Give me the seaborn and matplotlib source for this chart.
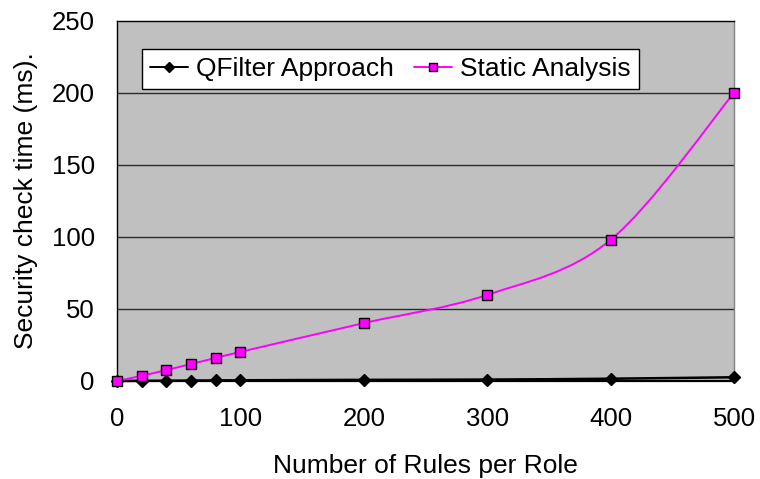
import matplotlib
matplotlib.use("Agg")
import matplotlib.pyplot as plt
from matplotlib.path import Path
from matplotlib.patches import PathPatch
import seaborn as sns
import pandas as pd
import numpy as np

rules = [0, 20, 40, 60, 80, 100, 200, 300, 400, 500]
qfilter = [0.0, 0.1, 0.2, 0.3, 0.4, 0.5, 0.8, 1.0, 1.6, 2.6]
static = [0.0, 3.6, 7.6, 11.8, 16.0, 20.2, 40.2, 59.8, 98.0, 200.0]
series_names = ["QFilter Approach", "Static Analysis"]
colors = {series_names[0]: "black", series_names[1]: "#FF00FF"}

sns.set_theme(style="white")
plt.rcParams['font.family'] = ['Liberation Sans', 'DejaVu Sans']
plt.rcParams['text.color'] = 'black'
plt.rcParams['axes.labelcolor'] = 'black'

df = pd.DataFrame({
    "rules": rules * 2,
    "time": qfilter + static,
    "series": [series_names[0]] * len(rules) + [series_names[1]] * len(rules),
})

fig = plt.figure(figsize=(7.6, 4.79), dpi=100)
ax = fig.add_axes([117/760, 1 - 381/479, (734 - 117)/760, (381 - 21)/479])
ax.set_facecolor("#C0C0C0")

for yv in [50, 100, 150, 200]:
    ax.axhline(yv, color="#2a2a2a", lw=1.0, zorder=1)

sns.lineplot(data=df, x="rules", y="time", hue="series", style="series",
             palette=colors,
             markers={series_names[0]: "D", series_names[1]: "s"},
             dashes=False, markersize=6.5, linewidth=1.4,
             markeredgecolor="black", markeredgewidth=1.0,
             ax=ax, zorder=4, clip_on=False)

# Hide straight segments; draw smoothed (Excel-style) curves through the data points
for line in ax.lines:
    xd = np.asarray(line.get_xdata())
    if len(xd) == len(rules):
        line.set_linestyle("None")


def smooth_path(xs, ys):
    pts = np.column_stack([xs, ys]).astype(float)
    n = len(pts)
    verts = [pts[0]]
    codes = [Path.MOVETO]
    for i in range(n - 1):
        p0 = pts[i - 1] if i > 0 else pts[i]
        p1 = pts[i]
        p2 = pts[i + 1]
        p3 = pts[i + 2] if i + 2 < n else pts[i + 1]
        c1 = p1 + (p2 - p0) / 6.0
        c2 = p2 - (p3 - p1) / 6.0
        verts += [c1, c2, p2]
        codes += [Path.CURVE4] * 3
    return Path(verts, codes)


for name, vals, lw in [(series_names[0], qfilter, 1.8), (series_names[1], static, 1.4)]:
    patch = PathPatch(smooth_path(rules, vals), fill=False, edgecolor=colors[name],
                      lw=lw, zorder=3, transform=ax.transData, clip_on=False)
    ax.add_patch(patch)

ax.set_xlim(0, 500)
ax.set_ylim(0, 250)
ax.set_xticks([0, 100, 200, 300, 400, 500])
ax.set_yticks([0, 50, 100, 150, 200, 250])

for s in ["left", "top"]:
    ax.spines[s].set_color("black")
    ax.spines[s].set_linewidth(1.0)
ax.spines["right"].set_color("#808080")
ax.spines["right"].set_linewidth(1.0)
ax.spines["bottom"].set_color("black")
ax.spines["bottom"].set_linewidth(1.6)

ax.tick_params(axis="both", labelsize=18.5, length=0, colors="black")
ax.tick_params(axis="x", pad=18.5)
ax.tick_params(axis="y", pad=16)

ax.set_xlabel("Number of Rules per Role", fontsize=19, labelpad=17)
ax.set_ylabel("Security check time (ms).", fontsize=19, labelpad=10)

old = ax.get_legend()
handles = old.legend_handles
labels = [t.get_text() for t in old.get_texts()]
old.remove()
leg = ax.legend(handles, labels, loc="upper left", bbox_to_anchor=(0.040, 0.921),
                borderaxespad=0, ncol=2, frameon=True, fancybox=False, fontsize=19,
                framealpha=1, edgecolor="black", handlelength=1.44,
                handletextpad=0.3, columnspacing=0.8, borderpad=0.3)
leg.get_frame().set_linewidth(1.0)
leg.get_frame().set_facecolor("white")
for h in leg.legend_handles:
    h.set_markersize(5.5)

fig.savefig("out.png", dpi=100, facecolor="white")
